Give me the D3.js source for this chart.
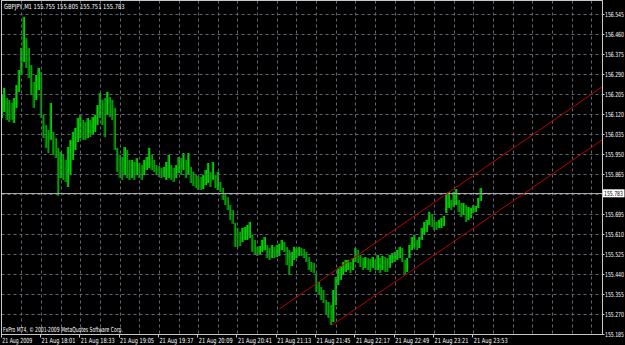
<!DOCTYPE html>
<html>
<head>
<meta charset="utf-8">
<script src="https://cdn.jsdelivr.net/npm/d3@7"></script>
<style>
body { margin: 0; background: #000; }
svg { display: block; }
.lbl { fill: #fff; font-family: "DejaVu Sans", sans-serif; font-size: 7px; }
</style>
</head>
<body>
<div class="svg-container"></div>
<script>
// GBPJPY M1, 21 Aug 2009, one entry per 2 minutes from 17:29
var symbol = "GBPJPY,M1";
var lastQuote = ["155.755", "155.805", "155.751", "155.783"];
var bid = 155.783;
var firstBar = "17:29";
var barMinutes = 2;

var highs = [
	156.201, 156.231, 156.188, 156.180, 156.167, 156.188, 156.243, 156.307, 156.401, 156.532,
	156.443, 156.401, 156.328, 156.256, 156.286, 156.316, 156.299, 156.116, 156.073, 156.052,
	156.167, 156.044, 156.018, 155.976, 155.959, 155.946, 155.925, 155.980, 156.010, 156.044,
	156.061, 156.103, 156.116, 156.095, 156.086, 156.103, 156.095, 156.107, 156.116, 156.158,
	156.209, 156.180, 156.188, 156.214, 156.192, 156.180, 156.146, 155.976, 155.946, 155.937,
	155.980, 155.967, 155.925, 155.925, 155.916, 155.933, 155.912, 155.903, 155.925, 155.937,
	155.976, 155.946, 155.925, 155.903, 155.899, 155.891, 155.895, 155.916, 155.946, 155.903,
	155.891, 155.903, 155.937, 155.933, 155.954, 155.925, 155.954, 155.895, 155.874, 155.861,
	155.857, 155.852, 155.861, 155.882, 155.912, 155.874, 155.916, 155.861, 155.874, 155.831,
	155.806, 155.776, 155.767, 155.733, 155.712, 155.657, 155.636, 155.619, 155.636, 155.640,
	155.648, 155.661, 155.606, 155.585, 155.555, 155.559, 155.585, 155.597, 155.563, 155.551,
	155.563, 155.555, 155.563, 155.568, 155.585, 155.576, 155.555, 155.542, 155.534, 155.555,
	155.551, 155.555, 155.551, 155.546, 155.534, 155.512, 155.491, 155.487, 155.444, 155.406,
	155.385, 155.372, 155.330, 155.321, 155.308, 155.372, 155.427, 155.466, 155.474, 155.491,
	155.500, 155.500, 155.491, 155.508, 155.551, 155.542, 155.521, 155.508, 155.512, 155.508,
	155.504, 155.512, 155.500, 155.521, 155.508, 155.517, 155.512, 155.508, 155.521, 155.529,
	155.534, 155.542, 155.555, 155.551, 155.500, 155.508, 155.563, 155.597, 155.606, 155.585,
	155.597, 155.636, 155.661, 155.670, 155.704, 155.695, 155.670, 155.661, 155.670, 155.678,
	155.687, 155.776, 155.789, 155.755, 155.789, 155.801, 155.755, 155.742, 155.742, 155.733,
	155.725, 155.721, 155.733, 155.729, 155.763, 155.805
];
var lows = [
	156.103, 156.129, 156.095, 156.086, 156.095, 156.082, 156.146, 156.214, 156.286, 156.341,
	156.316, 156.273, 156.201, 156.146, 156.180, 156.222, 156.103, 156.018, 155.976, 155.954,
	156.010, 155.946, 155.933, 155.772, 155.848, 155.840, 155.831, 155.810, 155.861, 155.925,
	155.967, 156.001, 156.018, 156.010, 156.010, 156.018, 156.022, 156.031, 156.044, 156.073,
	156.103, 156.073, 156.022, 156.116, 156.107, 156.095, 155.967, 155.874, 155.848, 155.840,
	155.861, 155.848, 155.840, 155.848, 155.840, 155.861, 155.848, 155.840, 155.861, 155.882,
	155.891, 155.882, 155.874, 155.861, 155.852, 155.848, 155.852, 155.840, 155.848, 155.840,
	155.831, 155.848, 155.869, 155.861, 155.882, 155.848, 155.861, 155.827, 155.814, 155.806,
	155.797, 155.797, 155.801, 155.818, 155.827, 155.810, 155.840, 155.806, 155.797, 155.789,
	155.755, 155.733, 155.712, 155.670, 155.653, 155.555, 155.555, 155.559, 155.576, 155.585,
	155.585, 155.593, 155.534, 155.521, 155.517, 155.521, 155.534, 155.542, 155.508, 155.500,
	155.508, 155.508, 155.512, 155.517, 155.542, 155.534, 155.478, 155.436, 155.474, 155.500,
	155.508, 155.517, 155.517, 155.508, 155.491, 155.457, 155.449, 155.444, 155.364, 155.351,
	155.330, 155.317, 155.266, 155.253, 155.223, 155.236, 155.308, 155.393, 155.415, 155.436,
	155.449, 155.457, 155.444, 155.457, 155.491, 155.487, 155.470, 155.457, 155.466, 155.457,
	155.449, 155.466, 155.457, 155.457, 155.444, 155.457, 155.449, 155.449, 155.466, 155.487,
	155.491, 155.500, 155.508, 155.491, 155.436, 155.449, 155.508, 155.542, 155.551, 155.542,
	155.551, 155.585, 155.606, 155.619, 155.648, 155.640, 155.627, 155.627, 155.636, 155.636,
	155.644, 155.699, 155.721, 155.712, 155.725, 155.733, 155.704, 155.682, 155.691, 155.661,
	155.670, 155.678, 155.699, 155.704, 155.721, 155.751
];

var priceTicks = [156.545, 156.460, 156.375, 156.290, 156.205, 156.120, 156.035, 155.950,
	155.865, 155.780, 155.695, 155.610, 155.525, 155.440, 155.355, 155.270, 155.185];

var timeLabelTimes = ["17:29", "18:01", "18:33", "19:05", "19:37", "20:09", "20:41",
	"21:13", "21:45", "22:17", "22:49", "23:21", "23:53"];
var timeLabels = ["21 Aug 2009", "21 Aug 18:01", "21 Aug 18:33", "21 Aug 19:05", "21 Aug 19:37",
	"21 Aug 20:09", "21 Aug 20:41", "21 Aug 21:13", "21 Aug 21:45", "21 Aug 22:17",
	"21 Aug 22:49", "21 Aug 23:21", "21 Aug 23:53"];

// channel lines: two anchor points each (time, price), drawn as rays to the right
var channelUpper = [["21:15", 155.291], ["23:59", 155.880]];
var channelLower = [["21:58", 155.223], ["23:59", 155.656]];

var copyright = "FxPro MT4, \u00a9 2001-2009 MetaQuotes Software Corp.";

var width = 625, height = 345;
var frameLeft = 1.5, frameRight = 602.5, frameTop = 0.5, frameBottom = 334.5;

function minutesOf(hhmm) {
	var p = hhmm.split(':');
	var b = firstBar.split(':');
	var m = (+p[0]) * 60 + (+p[1]) - ((+b[0]) * 60 + (+b[1]));
	return m < 0 ? m + 1440 : m;
}

// squeeze a text horizontally so it spans the given width
function fitText(sel, x, y, w) {
	sel.each(function(d, i) {
		var node = d3.select(this);
		var len = this.getComputedTextLength();
		var xx = typeof x === 'function' ? x(d, i) : x;
		var yy = typeof y === 'function' ? y(d, i) : y;
		var ww = typeof w === 'function' ? w(d, i) : w;
		node.attr('transform', 'translate(' + xx + ',' + yy + ') scale(' + (ww / len) + ',1)');
	});
}

var xScale = d3.scaleLinear()
	.domain([0, 488.8])
	.range([1.7, 602]);

var yScale = d3.scaleLinear()
	.domain([155.185, 156.6045])
	.range([334, 0]);

var svg = d3.select('.svg-container')
	.append('svg')
	.attr('width', width)
	.attr('height', height);

svg.append('rect')
	.attr('width', width)
	.attr('height', height)
	.attr('fill', '#000');

svg.append('clipPath')
	.attr('id', 'plot')
	.append('rect')
	.attr('x', frameLeft)
	.attr('y', frameTop)
	.attr('width', frameRight - frameLeft)
	.attr('height', frameBottom - frameTop);

var plot = svg.append('g').attr('clip-path', 'url(#plot)');

// bars
var bw = xScale(barMinutes) - xScale(0);
var bars = highs.map(function(h, i) {
	var prevMid = i > 0 ? (highs[i - 1] + lows[i - 1]) / 2 : (h + lows[i]) / 2;
	return { t: i * barMinutes, high: h, low: lows[i], up: (h + lows[i]) / 2 >= prevMid };
});

plot.selectAll('rect.bar')
	.data(bars)
	.enter()
	.append('rect')
	.attr('class', 'bar')
	.attr('x', function(d) { return xScale(d.t) - bw / 2; })
	.attr('y', function(d) { return yScale(d.high); })
	.attr('width', bw)
	.attr('height', function(d) { return Math.max(1, yScale(d.low) - yScale(d.high)); })
	.attr('fill', function(d) { return d.up ? '#00a800' : '#007400'; });

plot.selectAll('line.wick')
	.data(bars)
	.enter()
	.append('line')
	.attr('class', 'wick')
	.attr('x1', function(d) { return Math.round(xScale(d.t)) + 0.5; })
	.attr('x2', function(d) { return Math.round(xScale(d.t)) + 0.5; })
	.attr('y1', function(d) { return yScale(d.high); })
	.attr('y2', function(d) { return yScale(d.low); })
	.attr('stroke', function(d) { return d.up ? '#00d000' : '#00a000'; })
	.attr('stroke-width', 1);

// grid
var gridColor = '#5f6676';
plot.selectAll('line.hgrid')
	.data(priceTicks.slice(0, -1))
	.enter()
	.append('line')
	.attr('class', 'hgrid')
	.attr('x1', frameLeft)
	.attr('x2', frameRight)
	.attr('y1', function(d) { return Math.round(yScale(d)) + 0.5; })
	.attr('y2', function(d) { return Math.round(yScale(d)) + 0.5; })
	.attr('stroke', gridColor)
	.attr('stroke-dasharray', '3,3');

plot.selectAll('line.vgrid')
	.data(d3.range(16, 489, 16))
	.enter()
	.append('line')
	.attr('class', 'vgrid')
	.attr('x1', function(d) { return Math.round(xScale(d)) + 0.5; })
	.attr('x2', function(d) { return Math.round(xScale(d)) + 0.5; })
	.attr('y1', frameTop)
	.attr('y2', frameBottom)
	.attr('stroke', gridColor)
	.attr('stroke-dasharray', '3,3');

// bid line
plot.append('line')
	.attr('x1', frameLeft)
	.attr('x2', frameRight)
	.attr('y1', Math.round(yScale(bid)) + 0.5)
	.attr('y2', Math.round(yScale(bid)) + 0.5)
	.attr('stroke', '#a8a8a8');

// channel rays
function ray(pts) {
	var t1 = minutesOf(pts[0][0]), t2 = minutesOf(pts[1][0]);
	var slope = (pts[1][1] - pts[0][1]) / (t2 - t1);
	var tEnd = xScale.domain()[1];
	plot.append('line')
		.attr('x1', xScale(t1))
		.attr('y1', yScale(pts[0][1]))
		.attr('x2', xScale(tEnd))
		.attr('y2', yScale(pts[0][1] + slope * (tEnd - t1)))
		.attr('stroke', '#b80000')
		.attr('stroke-width', 1);
}
ray(channelUpper);
ray(channelLower);

// frame
svg.append('rect')
	.attr('x', frameLeft)
	.attr('y', frameTop)
	.attr('width', frameRight - frameLeft)
	.attr('height', frameBottom - frameTop)
	.attr('fill', 'none')
	.attr('stroke', '#c8c8c8');

// price axis
var priceLabels = priceTicks.filter(function(p) { return Math.abs(p - bid) > 0.01; });
var pAxis = svg.append('g').attr('class', 'axis');
pAxis.selectAll('line')
	.data(priceLabels)
	.enter()
	.append('line')
	.attr('x1', frameRight)
	.attr('x2', frameRight + 2)
	.attr('y1', function(d) { return Math.round(yScale(d)) + 0.5; })
	.attr('y2', function(d) { return Math.round(yScale(d)) + 0.5; })
	.attr('stroke', '#c8c8c8');
pAxis.selectAll('text')
	.data(priceLabels)
	.enter()
	.append('text')
	.attr('class', 'lbl')
	.text(function(d) { return d3.format('.3f')(d); })
	.call(fitText, 605, function(d) { return yScale(d) + 2.5; }, 19);

svg.append('rect')
	.attr('x', 603)
	.attr('y', yScale(bid) - 4)
	.attr('width', 21.5)
	.attr('height', 8)
	.attr('fill', '#fff');
svg.append('text')
	.attr('class', 'lbl')
	.style('fill', '#000')
	.text(d3.format('.3f')(bid))
	.call(fitText, 604, yScale(bid) + 2.5, 19);

// time axis
var tAxis = svg.append('g').attr('class', 'axis');
tAxis.selectAll('line')
	.data(timeLabelTimes)
	.enter()
	.append('line')
	.attr('x1', function(d) { return Math.round(xScale(minutesOf(d))) - 0.5; })
	.attr('x2', function(d) { return Math.round(xScale(minutesOf(d))) - 0.5; })
	.attr('y1', frameBottom)
	.attr('y2', frameBottom + 3)
	.attr('stroke', '#c8c8c8');
tAxis.selectAll('text')
	.data(timeLabels)
	.enter()
	.append('text')
	.attr('class', 'lbl')
	.text(function(d) { return d; })
	.call(fitText,
		function(d, i) { return xScale(minutesOf(timeLabelTimes[i])) + 0.5; },
		343,
		function(d, i) { return i === 0 ? 30 : 34; });

// header and footer text
svg.append('text')
	.attr('class', 'lbl')
	.text(symbol + "  " + lastQuote.join(" "))
	.call(fitText, 4, 9, 121);

svg.append('text')
	.attr('class', 'lbl')
	.text(copyright)
	.call(fitText, 3, 332, 120);
</script>
</body>
</html>
